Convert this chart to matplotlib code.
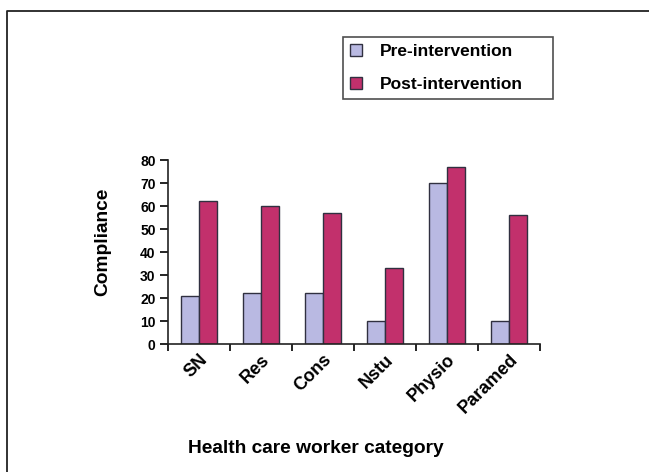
import numpy as np
import matplotlib
matplotlib.use("Agg")
import matplotlib.pyplot as plt
from matplotlib.lines import Line2D

plt.rcParams["font.family"] = ["Liberation Sans", "DejaVu Sans"]

categories = ["SN", "Res", "Cons", "Nstu", "Physio", "Paramed"]
pre_values = [21, 22, 22, 10, 70, 10]
post_values = [62, 60, 57, 33, 77, 56]
y_ticks = [0, 10, 20, 30, 40, 50, 60, 70, 80]

PRE_COLOR = "#b9b9e2"
POST_COLOR = "#c2306c"

fig = plt.figure(figsize=(6.49, 4.72), dpi=100)
ax = fig.add_axes([0.259, 0.271, 0.573, 0.390])

x = np.arange(len(categories))
w = 0.29
ax.bar(x - w / 2, pre_values, w, color=PRE_COLOR, edgecolor="#303040",
       linewidth=1.0, label="Pre-intervention")
ax.bar(x + w / 2, post_values, w, color=POST_COLOR, edgecolor="#303040",
       linewidth=1.0, label="Post-intervention")

ax.set_xlim(-0.5, len(categories) - 0.5)
ax.set_ylim(0, 80)
ax.set_yticks(y_ticks)
ax.set_yticklabels([str(v) for v in y_ticks], fontsize=10, fontweight="bold")

# ticks between groups, labels at group centres
ax.set_xticks(np.arange(len(categories) + 1) - 0.5)
ax.set_xticklabels([])
ax.set_xticks(x, minor=True)
ax.set_xticklabels(categories, minor=True, rotation=45, ha="right",
                   rotation_mode="anchor", fontsize=13, fontweight="bold")
ax.tick_params(axis="x", which="minor", length=0, pad=5)
ax.tick_params(axis="x", which="major", length=5, width=1.2, direction="out")
ax.tick_params(axis="y", length=6, width=1.2, direction="out", pad=3)

for side in ("top", "right"):
    ax.spines[side].set_visible(False)
for side in ("left", "bottom"):
    ax.spines[side].set_linewidth(1.2)
    ax.spines[side].set_color("#222222")

fig.text(0.159, 0.487, "Compliance", rotation=90, ha="center", va="center",
         fontsize=13.8, fontweight="bold")
fig.text(0.486, 0.049, "Health care worker category", ha="center",
         va="center", fontsize=13.8, fontweight="bold")

# legend box stretched to a fixed width in figure coords
leg = fig.legend(loc="upper left", mode="expand",
                 bbox_to_anchor=(0.528, 0.795, 0.324, 0.127),
                 borderaxespad=0, frameon=True, fancybox=False,
                 handlelength=0.7, handleheight=0.7, handletextpad=1.0,
                 labelspacing=1.0, borderpad=0.42,
                 prop={"weight": "bold", "size": 12.5})
leg.get_frame().set_edgecolor("#222222")
leg.get_frame().set_linewidth(1.2)

# outer frame (top and left edges)
fig.add_artist(Line2D([0.011, 0.011, 1.0], [0.0, 0.977, 0.977],
                      transform=fig.transFigure, color="#222222", lw=1.3))

fig.savefig("out.png", dpi=100)
